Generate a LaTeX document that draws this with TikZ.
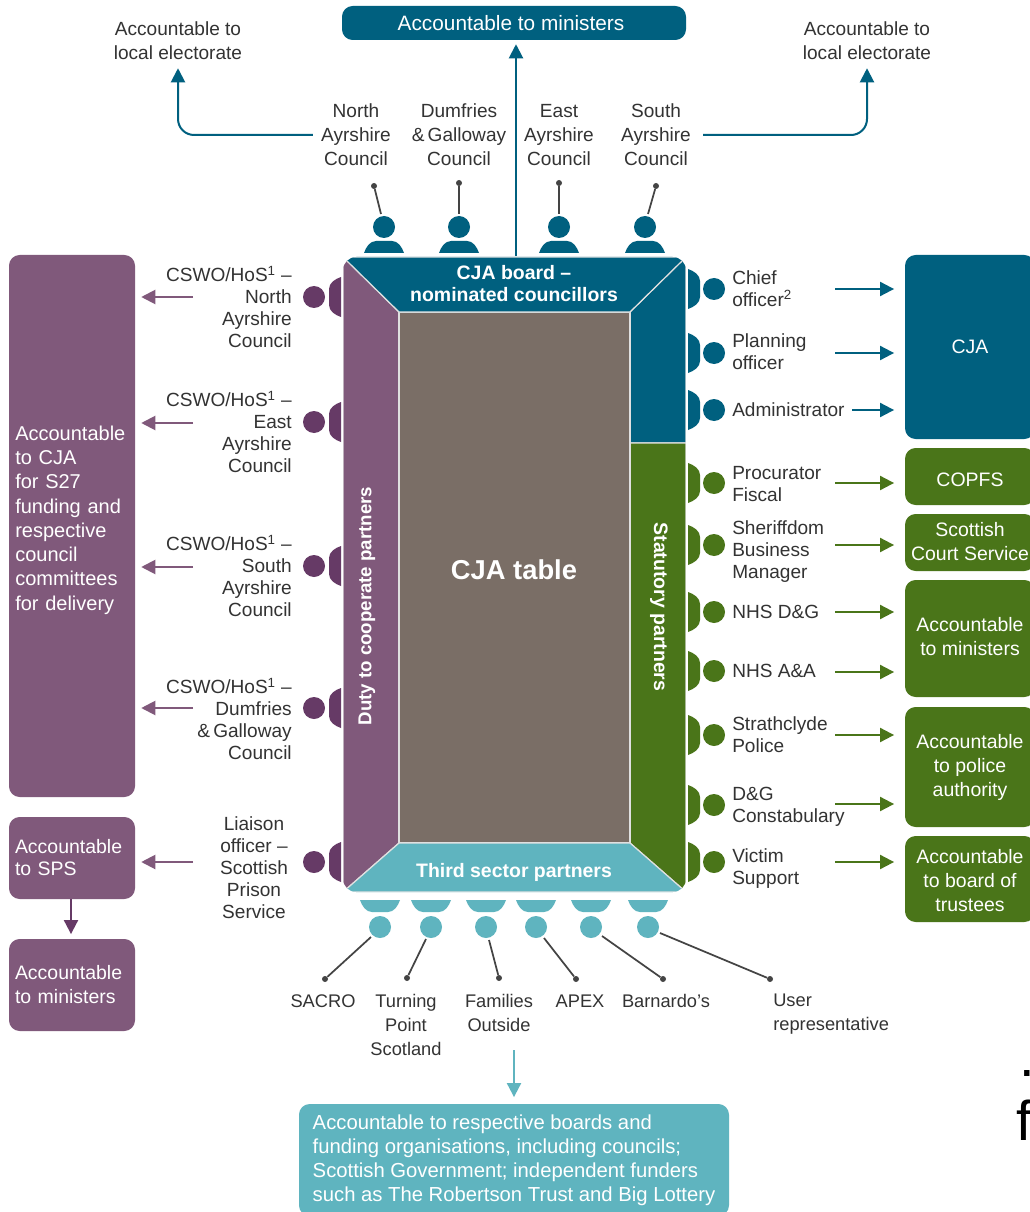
\documentclass[tikz,border=0pt]{standalone}
\usepackage{fontspec}
\setmainfont{Liberation Sans}
\usetikzlibrary{arrows.meta,calc}
\definecolor{cblue}{HTML}{00607F}
\definecolor{cpurple}{HTML}{80597B}
\definecolor{cdpurple}{HTML}{663A66}
\definecolor{cgreen}{HTML}{4A7519}
\definecolor{cteal}{HTML}{5FB4BF}
\definecolor{cbrown}{HTML}{7A6E66}
\definecolor{ctext}{HTML}{333333}
\definecolor{cpin}{HTML}{444444}
\newlength{\pxu}\setlength{\pxu}{0.75pt}
\tikzset{
  lab/.style={inner sep=0pt,text=ctext,align=center,font=\fontsize{14.3pt}{18pt}\selectfont},
  labtight/.style={lab,font=\fontsize{14.3pt}{16.5pt}\selectfont},
  labl/.style={labtight,align=left,anchor=west},
  labr/.style={labtight,align=right,anchor=east},
  labs/.style={lab,font=\fontsize{13.7pt}{18pt}\selectfont},
  boxtext/.style={text=white,align=center,font=\fontsize{14.6pt}{18pt}\selectfont},
  paneltext/.style={inner sep=0pt,text=white,align=center,font=\bfseries\fontsize{14.6pt}{16.5pt}\selectfont},
  head/.style={circle,inner sep=0pt,minimum size=16.5pt,fill=#1},
  pin/.style={circle,inner sep=0pt,minimum size=4.5pt,fill=cpin},
  pinline/.style={draw=cpin,line width=1.3pt},
  conn/.style={draw=#1,line width=1.5pt,-{Triangle[length=10.5pt,width=10.5pt]}},
  seam/.style={draw=white!88!black,line width=0.9pt,line join=round},
  pics/seat/.style={code={\fill[#1] (-20,0) .. controls (-18,-6) and (-14,-12) .. (-8,-12) -- (8,-12) .. controls (14,-12) and (18,-6) .. (20,0) -- cycle;}}
}
% name, x1, y1, x2, y2, colour, options, text
\newcommand{\bx}[8]{%
  \pgfmathsetmacro{\bw}{(#4-#2)*0.75}\pgfmathsetmacro{\bh}{(#5-#3)*0.75}%
  \node[rectangle,rounded corners=8pt,fill=#6,inner xsep=4.5pt,inner ysep=0pt,minimum width=\bw pt,minimum height=\bh pt,boxtext,#7] (#1) at ({(#2+#4)/2},{(#3+#5)/2}) {#8};}
\begin{document}
\begin{tikzpicture}[x=0.75pt,y=-0.75pt]
\useasboundingbox (0,0) rectangle (1030,1212);
\clip (0,0) rectangle (1030,1212);
\fill[white] (0,0) rectangle (1030,1212);

% --- accountability boxes
\bx{topbox}{342}{6}{686}{40}{cblue}{}{}
\node[boxtext,inner sep=0pt,font=\fontsize{15.6pt}{18pt}\selectfont] (topboxtext) at (511,23) {Accountable to ministers};
\bx{leftbig}{9}{255}{135}{797}{cpurple}{}{}
\node[boxtext,inner sep=0pt,text width=118\pxu,align=left,anchor=west,font=\fontsize{15pt}{18.2pt}\selectfont] (leftbigtext) at (15,520) {Accountable\\to CJA\\for S27\\funding and\\respective\\council\\committees\\for delivery};
\bx{sps}{9}{817}{135}{899}{cpurple}{text width=114\pxu,align=left,font=\fontsize{14.6pt}{16.5pt}\selectfont}{Accountable\\to SPS}
\bx{leftmin}{9}{939}{135}{1031}{cpurple}{text width=114\pxu,align=left}{Accountable\\to ministers}
\bx{cja}{905}{255}{1035}{439}{cblue}{}{CJA}
\bx{copfs}{905}{448}{1035}{505}{cgreen}{}{}
\node[boxtext,inner sep=0pt] (copfstext) at (970,480) {COPFS};
\bx{court}{905}{514}{1035}{571}{cgreen}{}{}
\node[boxtext,inner sep=0pt] (courttext) at (970,542) {Scottish\\Court Service};
\bx{rightmin}{905}{580}{1035}{697}{cgreen}{}{}
\node[boxtext,inner sep=0pt] (rightmintext) at (970,637) {Accountable\\to ministers};
\bx{police}{905}{707}{1035}{827}{cgreen}{}{}
\node[boxtext,inner sep=0pt] (policetext) at (970,767) {Accountable\\to police\\authority};
\bx{trustees}{905}{836}{1035}{922}{cgreen}{}{}
\node[boxtext,inner sep=0pt] (trusteestext) at (970,881) {Accountable\\to board of\\trustees};
\bx{funders}{299}{1104}{729}{1216}{cteal}{align=left,font=\fontsize{15.2pt}{18pt}\selectfont}{Accountable to respective boards and\\funding organisations, including councils;\\Scottish Government; independent funders\\such as The Robertson Trust and Big Lottery}

% --- table
\begin{scope}
\clip[rounded corners=10pt] (343,257) rectangle (686,892);
\filldraw[seam,fill=cpurple] (343,257) -- (399,312) -- (399,843) -- (343,892) -- cycle;
\filldraw[seam,fill=cblue] (686,257) -- (630,312) -- (630,443) -- (686,443) -- cycle;
\filldraw[seam,fill=cgreen] (630,443) -- (686,443) -- (686,892) -- (630,843) -- cycle;
\filldraw[seam,fill=cbrown] (399,312) rectangle (630,843);
\filldraw[seam,fill=cblue] (343,257) -- (686,257) -- (630,312) -- (399,312) -- cycle;
\filldraw[seam,fill=cteal] (399,843) -- (630,843) -- (686,892) -- (343,892) -- cycle;
\end{scope}
\node[paneltext] (board) at (514,284) {CJA board –\\nominated councillors};
\node[paneltext] (third) at (514,872) {Third sector partners};
\node[paneltext,font=\bfseries\fontsize{20.5pt}{24pt}\selectfont] (tablelabel) at (514,570) {CJA table};
\node[paneltext,rotate=90,font=\bfseries\fontsize{14pt}{16.5pt}\selectfont] (duty) at (367,606) {Duty to cooperate partners};
\node[paneltext,rotate=-90] (statutory) at (659,607) {Statutory partners};

% --- top seats
\foreach \n/\x in {a/384,b/459,c/559,d/645}{
  \pic at (\x,253) {seat=cblue};
  \node[head=cblue] (top\n) at (\x,227) {};
}
\node[pin] (pina) at (374,186) {};
\node[pin] (pinb) at (459,183) {};
\node[pin] (pinc) at (559,183) {};
\node[pin] (pind) at (656,186) {};
\draw[pinline] (pina) -- (381,214);
\draw[pinline] (pinb) -- (459,214);
\draw[pinline] (pinc) -- (559,214);
\draw[pinline] (pind) -- (648,214);

% --- bottom seats
\foreach \n/\x in {a/380,b/431,c/486,d/536,e/591,f/648}{
  \pic[rotate=180] at (\x,900) {seat=cteal};
  \node[head=cteal] (bot\n) at (\x,927) {};
}
\node[pin] (sa) at (325,979) {};
\node[pin] (sb) at (407,978) {};
\node[pin] (sc) at (499,978) {};
\node[pin] (sd) at (576,979) {};
\node[pin] (se) at (663,979) {};
\node[pin] (sf) at (770,979) {};
\draw[pinline] (sa) -- (371,937);
\draw[pinline] (sb) -- (426,939);
\draw[pinline] (sc) -- (489,940);
\draw[pinline] (sd) -- (544,938);
\draw[pinline] (se) -- (602,936);
\draw[pinline] (sf) -- (660,933);

% --- left seats
\foreach \n/\y in {a/297,b/422,c/566,d/708,e/862}{
  \pic[rotate=90] at (341,\y) {seat=cdpurple};
  \node[head=cdpurple] (left\n) at (314,\y) {};
}
% --- right seats
\foreach \n/\y/\c in {a/289/cblue,b/353/cblue,c/410/cblue,d/483/cgreen,e/545/cgreen,f/612/cgreen,g/671/cgreen,h/735/cgreen,i/805/cgreen,j/862/cgreen}{
  \pic[rotate=-90] at (688,\y) {seat=\c};
  \node[head=\c] (right\n) at (714,\y) {};
}

% --- top labels
\node[lab] (elecl) at (178,41) {Accountable to\\local electorate};
\node[lab] (elecr) at (867,41) {Accountable to\\local electorate};
\node[lab] (nac) at (356,135) {North\\Ayrshire\\Council};
\node[lab] (dgc) at (459,135) {Dumfries\\\&\,Galloway\\Council};
\node[lab] (eac) at (559,135) {East\\Ayrshire\\Council};
\node[lab] (sac) at (656,135) {South\\Ayrshire\\Council};

% --- left labels
\node[labr] (l1) at (292,307) {CSWO/HoS\textsuperscript{1} –\\North\\Ayrshire\\Council};
\node[labr] (l2) at (292,432) {CSWO/HoS\textsuperscript{1} –\\East\\Ayrshire\\Council};
\node[labr] (l3) at (292,576) {CSWO/HoS\textsuperscript{1} –\\South\\Ayrshire\\Council};
\node[labr] (l4) at (292,719) {CSWO/HoS\textsuperscript{1} –\\Dumfries\\\&\,Galloway\\Council};
\node[labtight] (l5) at (254,868) {Liaison\\officer –\\Scottish\\Prison\\Service};

% --- right labels
\node[labl] (r1) at (732,289) {Chief\\officer\textsuperscript{2}};
\node[labl] (r2) at (732,352) {Planning\\officer};
\node[labl] (r3) at (732,410) {Administrator};
\node[labl] (r4) at (732,484) {Procurator\\Fiscal};
\node[labl] (r5) at (732,552) {Sheriffdom\\Business\\Manager};
\node[labl] (r6) at (732,612) {NHS D\&G};
\node[labl] (r7) at (732,671) {NHS A\&A};
\node[labl] (r8) at (732,735) {Strathclyde\\Police};
\node[labl] (r9) at (732,807) {D\&G\\Constabulary};
\node[labl] (r10) at (732,869) {Victim\\Support};

% --- bottom labels
\node[labs] (bl1) at (323,1001) {SACRO};
\node[labs] (bl2) at (406,1025) {Turning\\Point\\Scotland};
\node[labs] (bl3) at (499,1013) {Families\\Outside};
\node[labs] (bl4) at (580,1001) {APEX};
\node[labs] (bl5) at (666,1001) {Barnardo’s};
\node[labs,align=left,anchor=west] (bl6) at (773,1014) {User\\representative};

% --- connectors
\draw[conn=cblue] (516,256) coordinate (tabletop) -- (tabletop |- topbox.south) [shorten >=3pt];
\draw[conn=cblue,rounded corners=12pt,shorten >=6pt] ([xshift=-6pt]nac.west) -| (elecl.south);
\draw[conn=cblue,rounded corners=12pt,shorten >=6pt] ([xshift=9pt]sac.east) -| (elecr.south);

\foreach \n/\y in {a/297,b/423,c/567,d/708,e/862}{
  \coordinate (ls\n) at (193,\y);
}
\foreach \n in {a,b,c,d}{
  \draw[conn=cpurple,shorten >=4.5pt] (ls\n) -- (ls\n -| leftbig.east);
}
\draw[conn=cpurple,shorten >=4.5pt] (lse) -- (lse -| sps.east);
\draw[conn=cdpurple,shorten >=3.5pt] (sps.south -| 71,0) -- (leftmin.north -| 71,0);

\coordinate (ra) at (835,289); \draw[conn=cblue,shorten >=8pt] (ra) -- (ra -| cja.west);
\coordinate (rb) at (835,353); \draw[conn=cblue,shorten >=8pt] (rb) -- (rb -| cja.west);
\coordinate (rc) at (852,410); \draw[conn=cblue,shorten >=8pt] (rc) -- (rc -| cja.west);
\coordinate (rd) at (835,483); \draw[conn=cgreen,shorten >=8pt] (rd) -- (rd -| copfs.west);
\coordinate (re) at (835,545); \draw[conn=cgreen,shorten >=8pt] (re) -- (re -| court.west);
\coordinate (rf) at (835,612); \draw[conn=cgreen,shorten >=8pt] (rf) -- (rf -| rightmin.west);
\coordinate (rg) at (835,672); \draw[conn=cgreen,shorten >=8pt] (rg) -- (rg -| rightmin.west);
\coordinate (rh) at (835,735); \draw[conn=cgreen,shorten >=8pt] (rh) -- (rh -| police.west);
\coordinate (ri) at (835,804); \draw[conn=cgreen,shorten >=8pt] (ri) -- (ri -| police.west);
\coordinate (rj) at (835,862); \draw[conn=cgreen,shorten >=8pt] (rj) -- (rj -| trustees.west);
\coordinate (bs) at (514,1050); \draw[conn=cteal,shorten >=5pt] (bs) -- (bs |- funders.north);

% --- stray cropped text at the page edge
\node[inner sep=0pt,anchor=base west,text=black,font=\fontsize{42pt}{42pt}\selectfont] (strayf) at (1016,1140) {f};
\node[inner sep=0pt,anchor=base west,text=black,font=\fontsize{42pt}{42pt}\selectfont] (straydot) at (1019,1076) {.};
\end{tikzpicture}
\end{document}
